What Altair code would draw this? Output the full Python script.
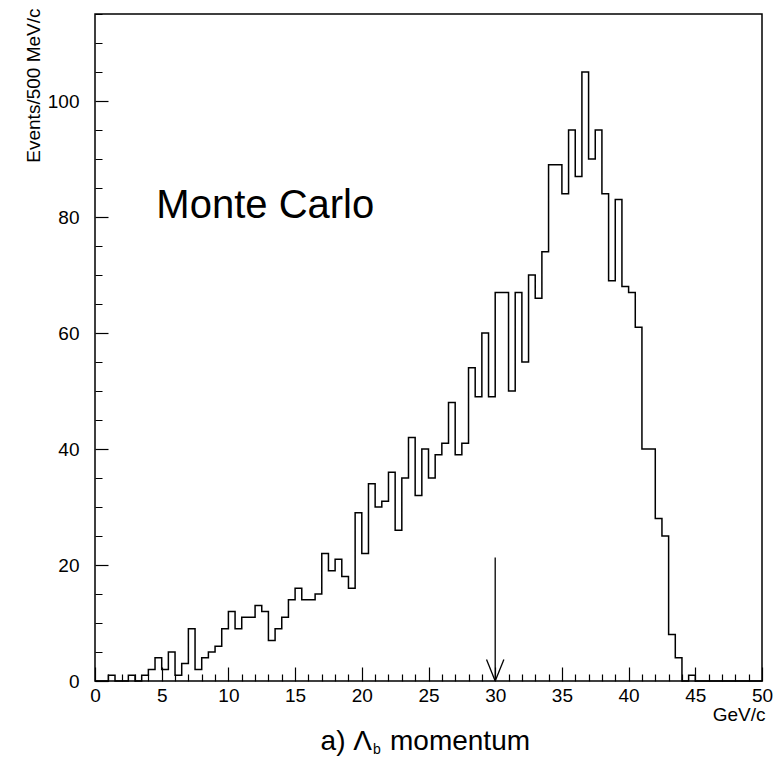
import altair as alt
import pandas as pd

# Histogram: 100 bins of 0.5 GeV/c from 0 to 50 GeV/c
bin_lo = [i * 0.5 for i in range(100)]
counts = [0, 0, 1, 0, 0, 1, 0, 1, 2, 4,
          2, 5, 1, 3, 9, 2, 4, 5, 6, 9,
          12, 9, 11, 11, 13, 12, 7, 9, 11, 14,
          16, 14, 14, 15, 22, 19, 21, 18, 16, 29,
          22, 34, 30, 31, 36, 26, 35, 42, 32, 40,
          35, 39, 41, 48, 39, 41, 54, 49, 60, 49,
          67, 67, 50, 67, 55, 70, 66, 74, 89, 89,
          84, 95, 87, 105, 90, 95, 84, 69, 83, 68,
          67, 61, 40, 40, 28, 25, 8, 4, 0, 1,
          0, 0, 0, 0, 0, 0, 0, 0, 0, 0]

x_tick_values = list(range(0, 51))
y_tick_values = list(range(0, 116, 5))

# arrow marking 30 GeV/c
arrow_p = [30.0, 29.35, 30.65]
arrow_n = [21.3, 3.7, 3.7]
arrow_p2 = [30.0, 30.0, 30.0]
arrow_n2 = [0.0, 0.0, 0.0]

FONT = "Liberation Sans"
W, H = 667, 667

hist_df = pd.DataFrame({"p": bin_lo + [50.0], "n": counts + [0]})
arrow_df = pd.DataFrame({"p": arrow_p, "n": arrow_n, "p2": arrow_p2, "n2": arrow_n2})
label_df = pd.DataFrame({"p": [4.6], "n": [79.8], "t": ["Monte Carlo"]})

x_enc = alt.X(
    "p:Q",
    scale=alt.Scale(domain=[0, 50], nice=False, zero=False),
    axis=alt.Axis(
        values=x_tick_values,
        title="GeV/c",
        titleFont=FONT, titleFontSize=19, titleFontWeight="normal", titleColor="black",
        titleAnchor="end", titleAlign="right", titleBaseline="top",
        titleX=W + 3, titleY=38,
        domain=False, grid=False,
        offset=-14, tickSize=14, tickColor="black", tickWidth=1.2,
        tickDash={"condition": {"test": "datum.value % 5 !== 0", "value": [0, 7, 7, 0]}, "value": [14, 0]},
        labelExpr="datum.value % 5 === 0 ? datum.label : ''",
        labelFont=FONT, labelFontSize=19, labelColor="black", labelPadding=5,
        labelFlush=False, labelOverlap=False,
    ),
)
y_enc = alt.Y(
    "n:Q",
    scale=alt.Scale(domain=[0, 115], nice=False, zero=True),
    axis=alt.Axis(
        values=y_tick_values,
        title="Events/500 MeV/c",
        titleFont=FONT, titleFontSize=19, titleFontWeight="normal", titleColor="black",
        titleAngle=270, titleAlign="right", titleBaseline="middle",
        titleX=-75, titleY=-6,
        domain=False, grid=False,
        offset=-13, tickSize=13, tickColor="black", tickWidth=1.2,
        tickDash={"condition": {"test": "datum.value % 20 !== 0", "value": [0, 6, 7, 0]}, "value": [13, 0]},
        labelExpr="datum.value % 20 === 0 ? datum.label : ''",
        labelFont=FONT, labelFontSize=19, labelColor="black", labelPadding=16,
        labelFlush=False, labelOverlap=False,
    ),
)

hist = alt.Chart(hist_df).mark_line(
    interpolate="step-after", color="black", strokeWidth=1.5
).encode(x=x_enc, y=y_enc)

arrow = alt.Chart(arrow_df).mark_rule(color="black", strokeWidth=1.3).encode(
    x=x_enc, y=y_enc, x2="p2:Q", y2="n2:Q"
)

mc = alt.Chart(label_df).mark_text(
    font=FONT, fontSize=40, align="left", baseline="alphabetic", color="black"
).encode(x=x_enc, y=y_enc, text="t:N")

cap_a = alt.Chart(pd.DataFrame({"t": ["a) \u039b"]})).mark_text(
    font=FONT, fontSize=28, align="right", baseline="alphabetic", color="black"
).encode(x=alt.value(277), y=alt.value(736), text="t:N")
cap_b = alt.Chart(pd.DataFrame({"t": ["b"]})).mark_text(
    font=FONT, fontSize=14, align="left", baseline="alphabetic", color="black"
).encode(x=alt.value(278), y=alt.value(740), text="t:N")
cap_m = alt.Chart(pd.DataFrame({"t": ["momentum"]})).mark_text(
    font=FONT, fontSize=28, align="left", baseline="alphabetic", color="black"
).encode(x=alt.value(295), y=alt.value(736), text="t:N")

chart = alt.layer(hist, arrow, mc, cap_a, cap_b, cap_m).properties(
    width=W, height=H,
    autosize=alt.AutoSizeParams(type="none"),
    padding={"left": 95, "top": 14, "right": 15, "bottom": 79},
    background="white",
).configure_view(stroke="black", strokeWidth=1.5)

chart.save("out.html", embed_options={"renderer": "svg", "actions": False})
